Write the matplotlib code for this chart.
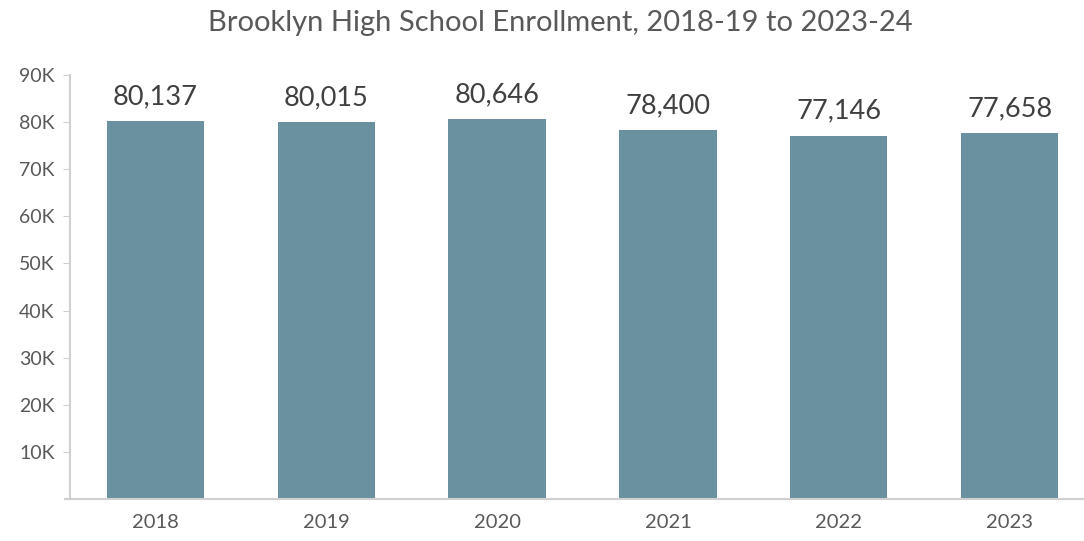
import matplotlib.pyplot as plt

years = ["2018", "2019", "2020", "2021", "2022", "2023"]
enrollment = [80137, 80015, 80646, 78400, 77146, 77658]
y_ticks = [10000, 20000, 30000, 40000, 50000, 60000, 70000, 80000, 90000]
y_tick_labels = ["10K", "20K", "30K", "40K", "50K", "60K", "70K", "80K", "90K"]

plt.rcParams['font.family'] = ['Lato', 'DejaVu Sans']

fig = plt.figure(figsize=(10.84, 5.41), dpi=100)
ax = fig.add_axes([0.0646, 0.0776, 0.9456, 0.7838])

x = range(len(years))
bars = ax.bar(x, enrollment, width=0.57, color="#6991a0")

for xi, v in zip(x, enrollment):
    ax.text(xi, v + 2500, f"{v:,}", ha="center", va="bottom",
            fontsize=19.5, color="#404040")

ax.set_xlim(-0.5, 5.5)
ax.set_ylim(0, 90000)
ax.set_xticks(list(x))
ax.set_xticklabels(years, fontsize=14.5, color="#595959")
ax.set_yticks(y_ticks)
ax.set_yticklabels(y_tick_labels, fontsize=14, color="#595959")
ax.tick_params(axis="x", length=0, pad=11)
ax.tick_params(axis="y", length=5, color="#d0d0d0", pad=6)

for side in ["top", "right"]:
    ax.spines[side].set_visible(False)
ax.spines["left"].set_color("#d0d0d0")
ax.spines["bottom"].set_color("#d0d0d0")
ax.spines["left"].set_linewidth(1.5)
ax.spines["bottom"].set_linewidth(1.5)
ax.spines["bottom"].set_bounds(-0.53, 5.5)

fig.text(0.517, 0.958, "Brooklyn High School Enrollment, 2018-19 to 2023-24",
         ha="center", va="center", fontsize=21, color="#595959")

fig.savefig("out.png", dpi=100)
